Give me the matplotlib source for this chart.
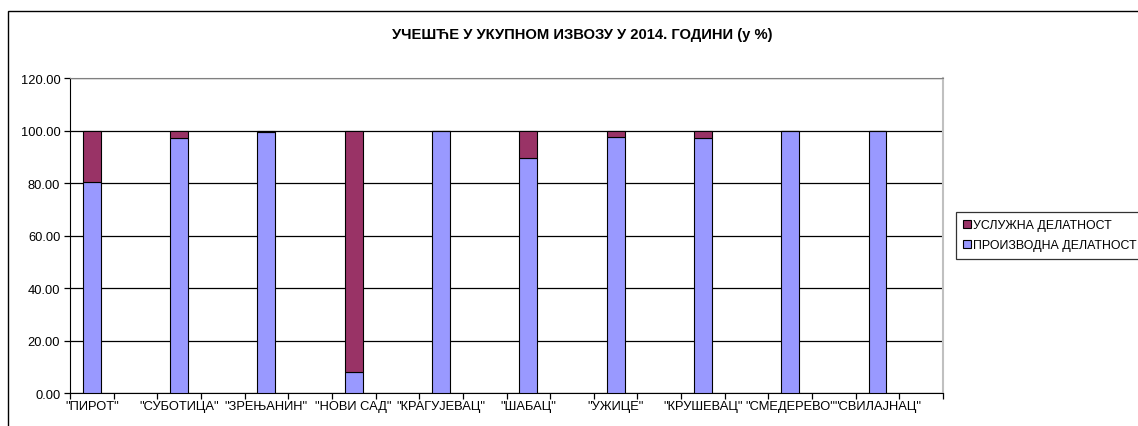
import matplotlib
matplotlib.use("Agg")
import matplotlib.pyplot as plt
import numpy as np
from matplotlib.patches import Rectangle, Patch

plt.rcParams['font.family'] = ['Liberation Sans', 'DejaVu Sans']

categories = ['"ПИРОТ"', '"СУБОТИЦА"', '"ЗРЕЊАНИН"', '"НОВИ САД"', '"КРАГУЈЕВАЦ"',
              '"ШАБАЦ"', '"УЖИЦЕ"', '"КРУШЕВАЦ"', '"СМЕДЕРЕВО"', '"СВИЛАЈНАЦ"']
proizvodna = [80.4, 97.1, 99.5, 8.0, 100.0, 89.5, 97.7, 97.3, 100.0, 100.0]
usluzna = [19.6, 2.9, 0.5, 92.0, 0.0, 10.5, 2.3, 2.7, 0.0, 0.0]
yticks = [0, 20, 40, 60, 80, 100, 120]
title = 'УЧЕШЋЕ У УКУПНОМ ИЗВОЗУ У 2014. ГОДИНИ (у %)'

W, H = 1138, 427
fig = plt.figure(figsize=(W / 100, H / 100), dpi=100)

# outer chart frame
fig.patches.append(Rectangle((8 / W, -0.2), 1.2, (H - 12) / H + 0.2,
                             transform=fig.transFigure, fill=False,
                             edgecolor='black', linewidth=1.0, zorder=0))

ax = fig.add_axes([70 / W, (H - 394.3) / H, (943 - 70) / W, (394.3 - 79) / H])

n = len(categories)
x = np.arange(n) * 2  # every other slot is an empty category
prod_color = '#9999FF'
serv_color = '#993366'
bw = 0.41
ax.bar(x, proizvodna, width=bw, color=prod_color, edgecolor='black', linewidth=0.8, zorder=3)
ax.bar(x, usluzna, width=bw, bottom=proizvodna, color=serv_color, edgecolor='black',
       linewidth=0.8, zorder=3)

ax.set_xlim(-0.5, 2 * n - 0.5)
ax.set_ylim(0, 120)
ax.set_yticks(yticks)
ax.set_yticklabels([f'{v:.2f}' for v in yticks], fontsize=9.3)
ax.yaxis.grid(True, color='black', linewidth=0.9, zorder=1)
ax.set_axisbelow(True)

ax.set_xticks(x)
ax.set_xticklabels(categories, fontsize=9.3)
ax.tick_params(axis='x', which='major', length=0, pad=4.5)
ax.set_xticks(np.arange(-0.5, 2 * n, 1.0), minor=True)
ax.tick_params(axis='x', which='minor', length=4, width=0.9, direction='out', color='black')
ax.tick_params(axis='y', length=4, width=0.9, direction='out', pad=3)

ax.spines['top'].set_color('#808080')
ax.spines['right'].set_color('#c0c0c0')
ax.spines['right'].set_linewidth(1.5)
ax.spines['left'].set_color('black')
ax.spines['bottom'].set_color('black')

fig.text(582 / W, (H - 35) / H, title, ha='center', va='center', fontsize=10.6,
         fontweight='bold')

handles = [Patch(facecolor=serv_color, edgecolor='black', linewidth=0.8),
           Patch(facecolor=prod_color, edgecolor='black', linewidth=0.8)]
leg = fig.legend(handles, ['УСЛУЖНА ДЕЛАТНОСТ', 'ПРОИЗВОДНА ДЕЛАТНОСТ'],
                 loc='upper left', bbox_to_anchor=(956 / W, (H - 213) / H),
                 fontsize=8.9, frameon=True, fancybox=False, handlelength=0.6,
                 handleheight=0.6, handletextpad=0.2, borderpad=0.6,
                 labelspacing=0.65, borderaxespad=0)
leg.get_frame().set_edgecolor('black')
leg.get_frame().set_linewidth(0.9)

fig.savefig('out.png', dpi=100, facecolor='white')
